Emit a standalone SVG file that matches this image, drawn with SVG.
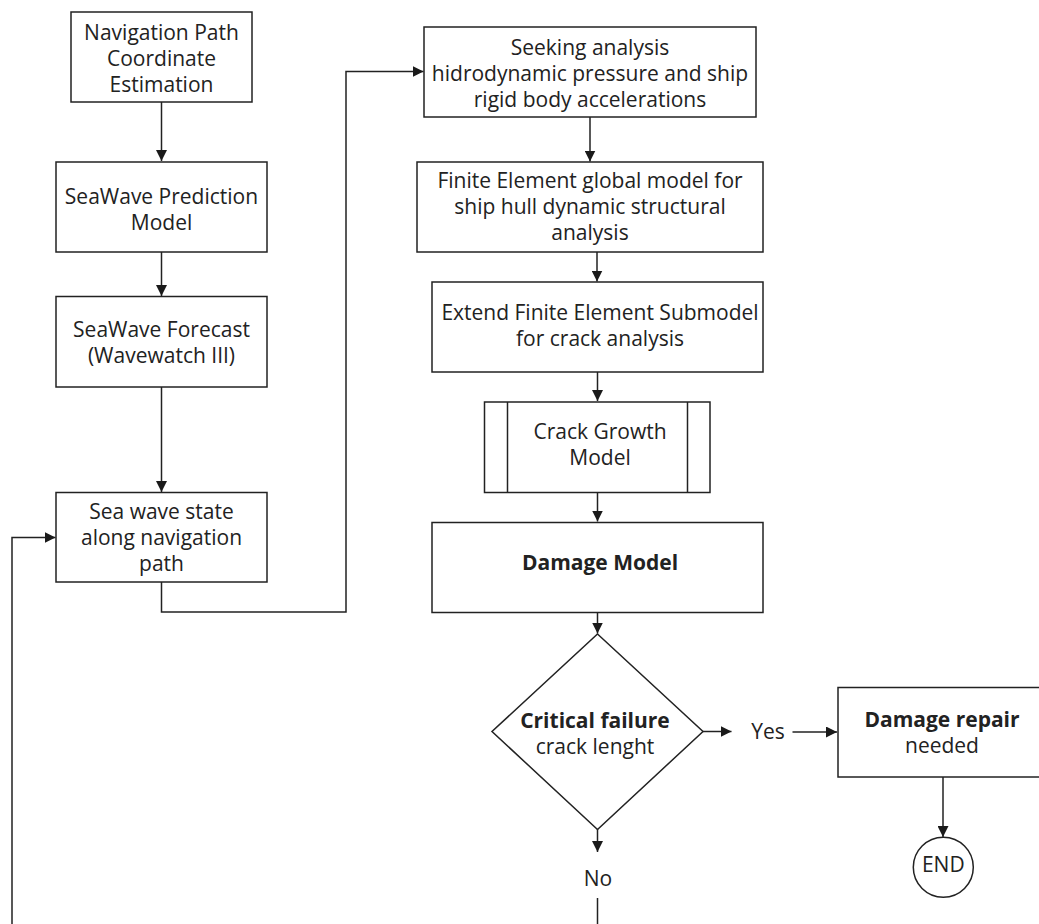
<svg xmlns="http://www.w3.org/2000/svg" width="1039" height="924" viewBox="0 0 1039 924">
<defs>
<style>
.b{fill:#fff;stroke:#222;stroke-width:1.5}
.c{fill:none;stroke:#222;stroke-width:1.5}
.t{font-family:"Open Sans","Liberation Sans",sans-serif;font-size:21px;fill:#222;text-anchor:middle}
.bd{font-weight:700}
</style>
<marker id="a" markerWidth="11" markerHeight="11" refX="11" refY="5.5" orient="auto" markerUnits="userSpaceOnUse"><path d="M0,0 L11,5.5 L0,11 z" fill="#1a1a1a"/></marker>
</defs>
<rect width="1039" height="924" fill="#fff"/>
<g id="connectors">
<line class="c" x1="161.5" y1="102" x2="161.5" y2="161" marker-end="url(#a)"/>
<line class="c" x1="161.5" y1="252" x2="161.5" y2="296" marker-end="url(#a)"/>
<line class="c" x1="161.5" y1="387" x2="161.5" y2="492" marker-end="url(#a)"/>
<polyline class="c" points="161.5,582 161.5,612 346,612 346,71.5 423.5,71.5" marker-end="url(#a)"/>
<polyline class="c" points="12,924 12,537.5 55.5,537.5" marker-end="url(#a)"/>
<line class="c" x1="590" y1="117" x2="590" y2="161.5" marker-end="url(#a)"/>
<line class="c" x1="597" y1="252" x2="597" y2="281.5" marker-end="url(#a)"/>
<line class="c" x1="597.5" y1="372" x2="597.5" y2="401" marker-end="url(#a)"/>
<line class="c" x1="597.5" y1="492.5" x2="597.5" y2="521.5" marker-end="url(#a)"/>
<line class="c" x1="597.5" y1="612.5" x2="597.5" y2="633.5" marker-end="url(#a)"/>
<line class="c" x1="702.5" y1="731.5" x2="731.5" y2="731.5" marker-end="url(#a)"/>
<line class="c" x1="792.5" y1="732" x2="837" y2="732" marker-end="url(#a)"/>
<line class="c" x1="597.5" y1="807" x2="597.5" y2="852" marker-end="url(#a)"/>
<line class="c" x1="597.5" y1="898" x2="597.5" y2="924"/>
<line class="c" x1="943" y1="777" x2="943" y2="837" marker-end="url(#a)"/>
</g>
<g id="n1"><rect class="b" x="71" y="12" width="181" height="90"/>
<text class="t" x="161.5" y="40">Navigation Path</text><text class="t" x="161.5" y="66">Coordinate</text><text class="t" x="161.5" y="92">Estimation</text></g>
<g id="n2"><rect class="b" x="56" y="162" width="211" height="90"/>
<text class="t" x="161.5" y="204">SeaWave Prediction</text><text class="t" x="161.5" y="230">Model</text></g>
<g id="n3"><rect class="b" x="56" y="296.5" width="211" height="90.5"/>
<text class="t" x="161.5" y="337">SeaWave Forecast</text><text class="t" x="161.5" y="363">(Wavewatch III)</text></g>
<g id="n4"><rect class="b" x="56" y="492.5" width="211" height="89.5"/>
<text class="t" x="161.5" y="519">Sea wave state</text><text class="t" x="161.5" y="545">along navigation</text><text class="t" x="161.5" y="571">path</text></g>
<g id="n5"><rect class="b" x="424" y="27" width="332" height="90"/>
<text class="t" x="590" y="55">Seeking analysis</text><text class="t" x="590" y="81">hidrodynamic pressure and ship</text><text class="t" x="590" y="107">rigid body accelerations</text></g>
<g id="n6"><rect class="b" x="417" y="162" width="346" height="90"/>
<text class="t" x="590" y="187.5">Finite Element global model for</text><text class="t" x="590" y="213.5">ship hull dynamic structural</text><text class="t" x="590" y="239.5">analysis</text></g>
<g id="n7"><rect class="b" x="432" y="282" width="331" height="90"/>
<text class="t" x="600" y="320">Extend Finite Element Submodel</text><text class="t" x="600" y="346">for crack analysis</text></g>
<g id="n8"><rect class="b" x="484.5" y="402" width="225.5" height="90.5"/>
<line class="c" x1="507.5" y1="402" x2="507.5" y2="492.5"/><line class="c" x1="687.5" y1="402" x2="687.5" y2="492.5"/>
<text class="t" x="600" y="439">Crack Growth</text><text class="t" x="600" y="465">Model</text></g>
<g id="n9"><rect class="b" x="432" y="522.5" width="331" height="90"/>
<text class="t bd" x="600" y="570">Damage Model</text></g>
<g id="n10"><polygon class="b" points="597.5,634 703,731.5 597.5,829.5 492,731.5"/>
<text class="t bd" x="595" y="727.5">Critical failure</text><text class="t" x="595" y="753.5">crack lenght</text></g>
<g id="n11"><text class="t" x="768" y="738.5">Yes</text></g>
<g id="n12"><rect class="b" x="838" y="687.5" width="210" height="89.5"/>
<text class="t bd" x="942" y="727">Damage repair</text><text class="t" x="942" y="753">needed</text></g>
<g id="n13"><circle class="b" cx="943.3" cy="867.3" r="30"/>
<text class="t" x="943.3" y="872">END</text></g>
<g id="n14"><text class="t" x="598" y="886">No</text></g>
</svg>
